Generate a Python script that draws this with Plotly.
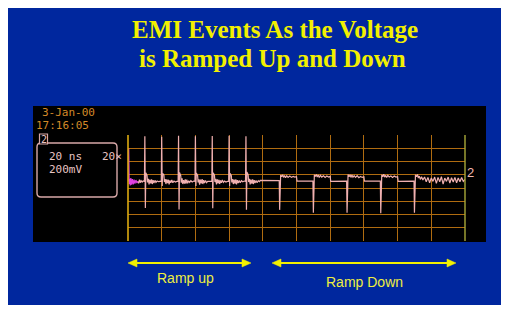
import plotly.graph_objects as go

# ---------------- data ----------------
title_lines = ["EMI Events As the Voltage", "is Ramped Up and Down"]
date_text = "3-Jan-00"
time_text = "17:16:05"
setting_lines = ["20 ns   20\u00d7", "200mV"]
channel_label = "2"
ramp_labels = ["Ramp up", "Ramp Down"]

# time in ns (20 ns/div), voltage in mV (200 mV/div)
x_ticks = [0, 20, 40, 60, 80, 100, 120, 140, 160, 180, 200]
y_ticks = [-800, -600, -400, -200, 0, 200, 400, 600, 800]

# trigger-start segment (magenta)
start_t = [0.0, 0.4, 0.7, 1.0, 1.3, 1.7, 2.1, 2.6, 3.1, 3.6, 4.1, 4.7, 5.3, 5.8]
start_v = [100, 600, 60, 140, 40, 150, 50, 135, 55, 125, 65, 120, 75, 100]

# main trace (pink)
trace_t = [
    5.8, 6.3, 6.8, 7.3, 7.8, 8.4, 9.0, 9.75,
    10.0, 10.3, 10.55, 11.3, 11.6, 12.1, 12.5, 13.0, 13.5, 14.0, 14.4, 14.9, 15.4, 16.0, 16.6, 17.3, 18.1, 19.0, 19.75,
    20.0, 20.3, 20.55, 21.3, 21.6, 22.1, 22.5, 23.0, 23.5, 24.0, 24.4, 24.9, 25.4, 26.0, 26.6, 27.3, 28.1, 29.0, 29.75,
    30.0, 30.3, 30.55, 31.3, 31.6, 32.1, 32.5, 33.0, 33.5, 34.0, 34.4, 34.9, 35.4, 36.0, 36.6, 37.3, 38.1, 39.0, 39.75,
    40.0, 40.3, 40.55, 41.3, 41.6, 42.1, 42.5, 43.0, 43.5, 44.0, 44.4, 44.9, 45.4, 46.0, 46.6, 47.3, 48.1, 49.0, 49.75,
    50.0, 50.3, 50.55, 51.3, 51.6, 52.1, 52.5, 53.0, 53.5, 54.0, 54.4, 54.9, 55.4, 56.0, 56.6, 57.3, 58.1, 59.0, 59.75,
    60.0, 60.3, 60.55, 61.3, 61.6, 62.1, 62.5, 63.0, 63.5, 64.0, 64.4, 64.9, 65.4, 66.0, 66.6, 67.3, 68.1, 69.0, 69.75,
    70.0, 70.3, 70.55, 71.3, 71.6, 72.1, 72.5, 73.0, 73.5, 74.0, 74.4, 74.9, 75.4, 76.0, 76.6, 77.3, 78.0, 78.5, 84.0, 89.75,
    90.0, 90.25, 90.6, 91.2, 91.8, 92.3, 92.9, 93.5, 94.2, 95.0, 96.0, 97.0, 98.0, 99.0, 100.0, 100.3, 105.0, 109.75,
    110.0, 110.25, 110.6, 111.2, 111.8, 112.3, 112.9, 113.5, 114.2, 115.0, 116.0, 117.0, 118.0, 119.0, 120.0, 120.3, 125.0, 129.75,
    130.0, 130.25, 130.6, 131.2, 131.8, 132.3, 132.9, 133.5, 134.2, 135.0, 136.0, 137.0, 138.0, 139.0, 140.0, 140.3, 145.0, 149.75,
    150.0, 150.25, 150.6, 151.2, 151.8, 152.3, 152.9, 153.5, 154.2, 155.0, 156.0, 157.0, 158.0, 159.0, 160.0, 160.3, 165.0, 169.75,
    170.0, 170.25, 170.6, 171.2, 171.8, 172.3, 172.9, 173.5, 174.2, 175.0, 176.0, 177.0, 178.0, 179.0, 180.0,
    181.0, 182.0, 183.0, 184.0, 185.0, 186.0, 187.0, 188.0, 189.0, 190.0, 191.0, 192.0, 193.0, 194.0, 195.0,
    196.0, 197.0, 198.0, 199.0, 200.0,
]
trace_v = [
    100, 70, 125, 80, 110, 90, 105, 100,
    780, -300, 230, 190, 85, 140, 55, 125, 70, 130, 60, 120, 75, 115, 85, 105, 95, 100, 100,
    775, 30, 220, 195, 90, 135, 60, 130, 75, 125, 55, 115, 80, 120, 80, 105, 90, 100, 100,
    790, -325, 235, 185, 80, 145, 60, 120, 65, 130, 65, 125, 70, 110, 85, 110, 90, 105, 100,
    780, 30, 225, 190, 85, 130, 50, 125, 70, 135, 60, 120, 75, 115, 80, 100, 95, 100, 100,
    785, -305, 230, 195, 90, 140, 55, 130, 70, 125, 60, 115, 80, 120, 85, 105, 90, 100, 100,
    790, 30, 220, 190, 85, 135, 60, 125, 65, 130, 55, 120, 75, 115, 80, 110, 95, 105, 100,
    780, -330, 240, 200, 90, 140, 55, 125, 65, 130, 60, 120, 75, 115, 80, 110, 95, 115, 112, 112,
    -330, 150, 195, 170, 200, 160, 190, 155, 185, 160, 180, 160, 175, 165, 170, 105, 110, 105,
    -375, 145, 200, 175, 205, 165, 195, 160, 190, 165, 185, 160, 180, 165, 175, 100, 105, 105,
    -375, 150, 205, 170, 200, 160, 195, 165, 185, 160, 185, 155, 175, 160, 170, 105, 105, 105,
    -380, 145, 200, 170, 210, 165, 190, 160, 190, 165, 180, 160, 180, 165, 170, 100, 105, 105,
    -375, 150, 200, 170, 205, 150, 180, 130, 170, 120, 165, 95, 160, 80, 150,
    100, 165, 70, 160, 95, 170, 60, 150, 100, 165, 75, 155, 90, 160, 80,
    150, 95, 160, 100, 130,
]

# ---------------- styling / layout helpers ----------------
# The page places the figure 8px from the top-left corner of the window,
# so the figure is 8px smaller and everything is measured in window pixels.
OFF = 8
W, H = 516 - OFF, 311 - OFF
L, R, T, B = 128, 465, 135, 241  # plot area in window pixels


def px(x):
    return (x - L) / (R - L)


def py(y):
    return (B - y) / (B - T)


def P(x, y):
    return f"{px(x):.5f},{py(y):.5f}"


BLUE = "#00279e"
GRID = "#b06c10"
PINK = "#f0b0b0"
ORANGE_TXT = "#d48a28"
BOX_PINK = "#d8a8a8"
YELLOW = "#f2f000"

fig = go.Figure()

fig.add_trace(go.Scatter(x=trace_t, y=trace_v, mode="lines",
                         line=dict(color=PINK, width=1.2), hoverinfo="skip"))
fig.add_trace(go.Scatter(x=start_t, y=start_v, mode="lines",
                         line=dict(color="#e040e0", width=1.2), hoverinfo="skip"))
# reference markers at the left and right of the screen
fig.add_trace(go.Scatter(x=[-2.6], y=[100], mode="markers", cliponaxis=False,
                         marker=dict(symbol="triangle-right", size=7, color=PINK),
                         hoverinfo="skip"))
fig.add_trace(go.Scatter(x=[202.6], y=[100], mode="markers", cliponaxis=False,
                         marker=dict(symbol="triangle-left", size=7, color=PINK),
                         hoverinfo="skip"))

shapes = [
    dict(type="rect", xref="paper", yref="paper", layer="below",
         x0=px(8), x1=px(501), y0=py(305), y1=py(7), fillcolor=BLUE, line=dict(width=0)),
    dict(type="rect", xref="paper", yref="paper", layer="below",
         x0=px(33), x1=px(486), y0=py(242), y1=py(106), fillcolor="black", line=dict(width=0)),
    # screen borders
    dict(type="line", xref="paper", yref="paper", layer="above",
         x0=0, x1=0, y0=0, y1=1, line=dict(color="#dcaa10", width=1.6)),
    dict(type="line", xref="paper", yref="paper", layer="above",
         x0=1, x1=1, y0=0, y1=1, line=dict(color="#a8a838", width=1.4)),
    # settings box
    dict(type="path", xref="paper", yref="paper",
         path=(f"M{P(41,143)} L{P(113,143)} Q{P(117,143)} {P(117,147)} L{P(117,193)} "
               f"Q{P(117,197)} {P(113,197)} L{P(41,197)} Q{P(37,197)} {P(37,193)} "
               f"L{P(37,147)} Q{P(37,143)} {P(41,143)} Z"),
         line=dict(color=BOX_PINK, width=1.4)),
    dict(type="rect", xref="paper", yref="paper",
         x0=px(39.5), x1=px(47.5), y0=py(144), y1=py(134), fillcolor="black",
         line=dict(color=BOX_PINK, width=1.2)),
]

# double arrows
for x0, x1 in [(128, 251), (272, 456)]:
    shapes.append(dict(type="line", xref="paper", yref="paper",
                       x0=px(x0 + 6), x1=px(x1 - 6), y0=py(263), y1=py(263),
                       line=dict(color=YELLOW, width=2.2)))
    shapes.append(dict(type="path", xref="paper", yref="paper",
                       path=f"M{P(x0,263)} L{P(x0+9,259)} L{P(x0+9,267)} Z",
                       fillcolor=YELLOW, line=dict(color=YELLOW, width=0.5)))
    shapes.append(dict(type="path", xref="paper", yref="paper",
                       path=f"M{P(x1,263)} L{P(x1-9,259)} L{P(x1-9,267)} Z",
                       fillcolor=YELLOW, line=dict(color=YELLOW, width=0.5)))

annotations = []


def note(text, x, y, size, color, family, xanchor="center", bold=False):
    if bold:
        text = f"<b>{text}</b>"
    annotations.append(dict(text=text, x=px(x), y=py(y), xref="paper", yref="paper",
                            xanchor=xanchor, yanchor="middle", showarrow=False,
                            font=dict(size=size, color=color, family=family)))


SERIF = "Liberation Serif, Times New Roman, serif"
MONO = "DejaVu Sans Mono, monospace"
SANS = "Liberation Sans, Arial, sans-serif"

note(title_lines[0], 275, 29.5, 25, YELLOW, SERIF, bold=True)
note(title_lines[1], 272, 58, 25, YELLOW, SERIF, bold=True)
note(date_text, 40, 112, 11, ORANGE_TXT, MONO, xanchor="left")
note(time_text, 34, 126, 11, ORANGE_TXT, MONO, xanchor="left")
note(setting_lines[0], 47, 156, 11, "#e8c4c4", MONO, xanchor="left")
note(setting_lines[1], 47, 169, 11, "#e8c4c4", MONO, xanchor="left")
note(channel_label, 43.5, 139, 10, "#e8c4c4", MONO)
note(channel_label, 470, 172, 13, "#f0b8b0", SANS)
note(ramp_labels[0], 185, 278, 14, "#eeee40", SANS)
note(ramp_labels[1], 364, 282, 14, "#eeee40", SANS)

fig.update_layout(
    width=W, height=H,
    margin=dict(l=L - OFF, r=W - (R - OFF), t=T - OFF, b=H - (B - OFF), pad=0),
    paper_bgcolor="white", plot_bgcolor="black",
    showlegend=False,
    shapes=shapes, annotations=annotations,
    xaxis=dict(range=[0, 200], tickvals=x_ticks, showticklabels=False, ticks="",
               showgrid=True, gridcolor=GRID, gridwidth=1, zeroline=False,
               showline=False, fixedrange=True),
    yaxis=dict(range=[-800, 800], tickvals=y_ticks, showticklabels=False, ticks="",
               showgrid=True, gridcolor=GRID, gridwidth=1, zeroline=False,
               showline=False, fixedrange=True),
)

fig.write_html("out.html", config={"displayModeBar": False})
